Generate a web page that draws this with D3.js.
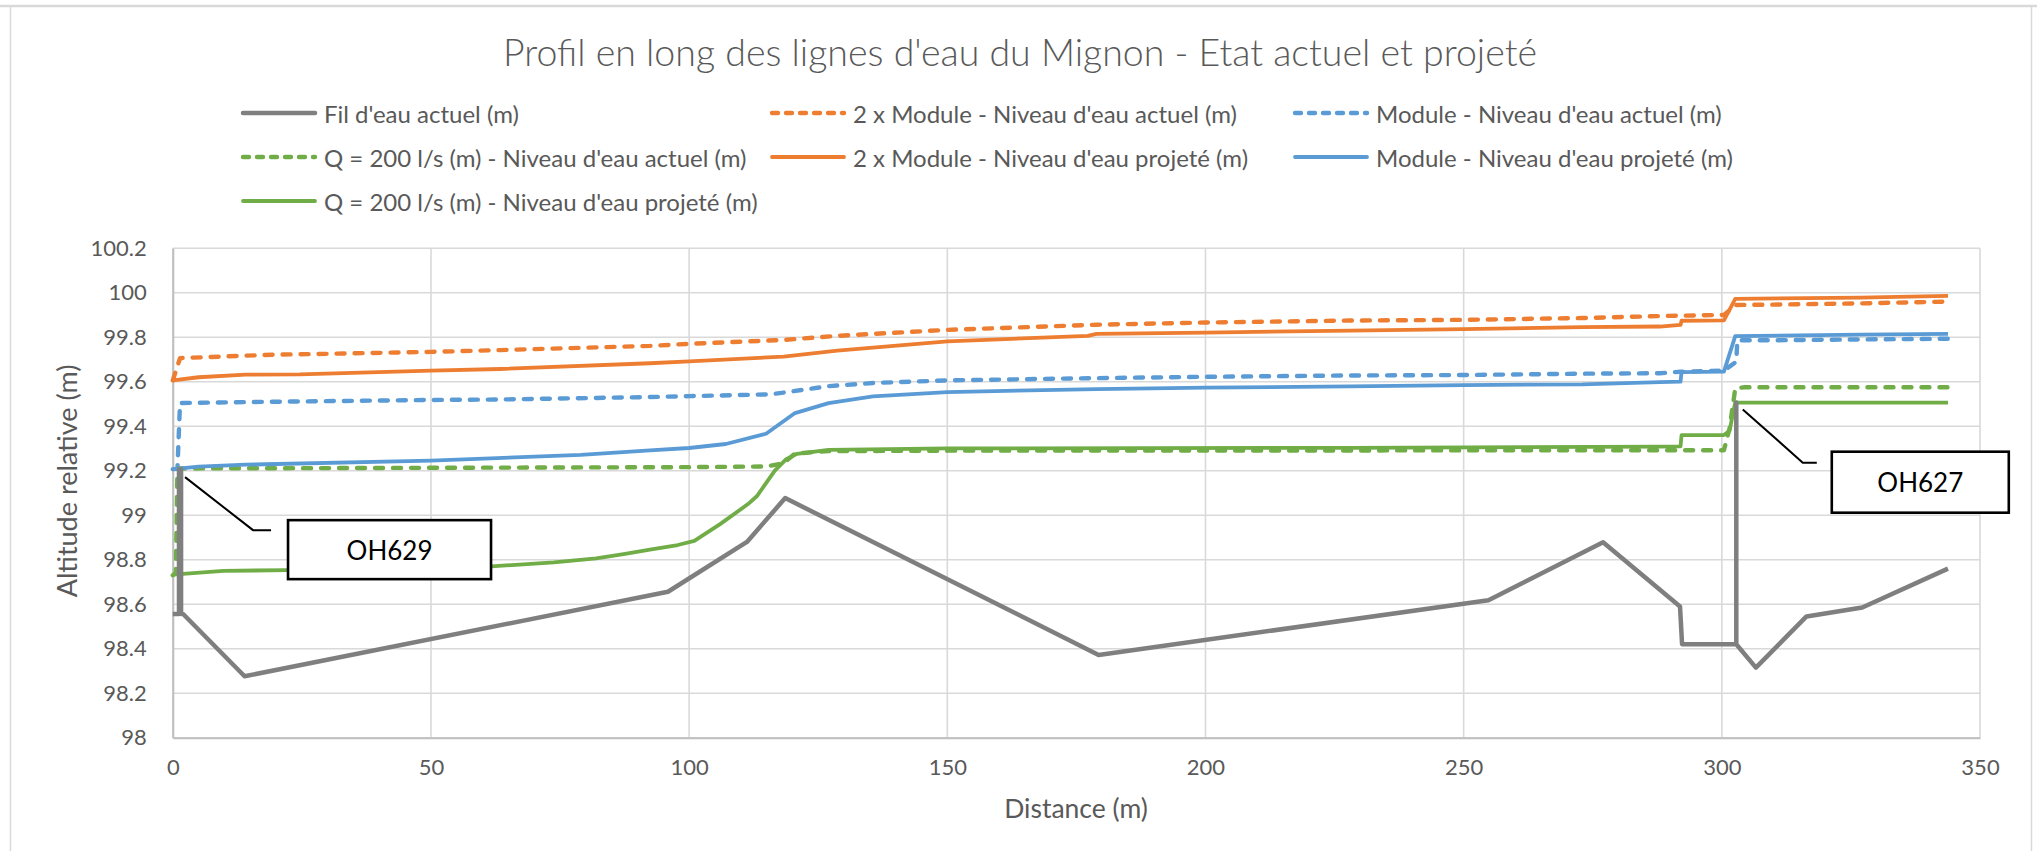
<!DOCTYPE html>
<html>
<head>
<meta charset="utf-8">
<script src="https://cdn.jsdelivr.net/npm/d3@7"></script>
<style>
  html, body { margin: 0; padding: 0; background: #fff; }
  svg { display: block; font-family: Lato, "Open Sans", sans-serif; }
</style>
</head>
<body>
<svg id="chart" width="2037" height="851"></svg>
<script>
// Profil en long du Mignon : distance (m) / altitude relative (m)
const filEauActuel = [
  [0, 98.556], [1.2, 98.556], [1.2, 99.207], [1.6, 99.207], [1.6, 98.556], [2.0, 98.556],
  [13.9, 98.276], [95.9, 98.656], [111.2, 98.88], [118.6, 99.077], [179.3, 98.372],
  [254.8, 98.618], [277.0, 98.878], [291.9, 98.59], [292.3, 98.42], [302.8, 98.42],
  [302.8, 99.507], [302.8, 98.42], [306.6, 98.315], [316.4, 98.545], [327.2, 98.585], [343.8, 98.76]
];
const deuxModuleActuel = [
  [0, 99.606], [1.4, 99.706], [20, 99.722], [24.6, 99.723], [50, 99.734], [63.4, 99.742],
  [92.4, 99.761], [100, 99.77], [118.6, 99.788], [128.7, 99.806], [150, 99.833], [178.9, 99.856],
  [200, 99.866], [228, 99.875], [250, 99.878], [273, 99.886], [288, 99.895], [300.4, 99.9],
  [302.8, 99.945], [309, 99.946], [326.8, 99.952], [343.8, 99.96]
];
const moduleActuel = [
  [0, 99.207], [0.9, 99.21], [1.4, 99.504], [20, 99.51], [50, 99.518], [63.4, 99.52],
  [92.4, 99.531], [100, 99.535], [115.7, 99.543], [118.6, 99.552], [127, 99.58], [135.6, 99.594],
  [150, 99.606], [178.9, 99.616], [200, 99.622], [228, 99.628], [250, 99.63], [273, 99.636],
  [288, 99.638], [292, 99.645], [300.4, 99.65], [302.8, 99.69], [303.0, 99.786], [309, 99.786],
  [326.8, 99.79], [343.8, 99.793]
];
const q200Actuel = [
  [0, 98.73], [0.6, 98.74], [0.9, 99.21], [50, 99.213], [100, 99.216], [114.9, 99.219],
  [118.3, 99.234], [120.5, 99.277], [127, 99.288], [150, 99.29], [300.4, 99.292], [301.5, 99.39],
  [302.6, 99.57], [304.4, 99.575], [343.8, 99.575]
];
const deuxModuleProjete = [
  [0, 99.606], [5, 99.62], [14.1, 99.632], [24.6, 99.633], [50, 99.65], [63.4, 99.657],
  [92.4, 99.683], [100, 99.691], [118.3, 99.713], [128.7, 99.74], [150, 99.781], [177.2, 99.806],
  [178.9, 99.815], [200, 99.821], [228, 99.83], [250, 99.836], [273, 99.845], [288, 99.848],
  [292.0, 99.855], [292.2, 99.874], [300.4, 99.876], [302.6, 99.972], [326.8, 99.978], [343.8, 99.986]
];
const moduleProjete = [
  [0, 99.207], [5, 99.218], [14.1, 99.227], [50, 99.245], [79, 99.271], [92.4, 99.291],
  [100, 99.302], [107.1, 99.32], [114.9, 99.366], [120.5, 99.459], [127, 99.504], [135.6, 99.534],
  [150, 99.553], [178.9, 99.567], [200, 99.573], [228, 99.579], [250, 99.585], [273, 99.588],
  [288, 99.598], [292.0, 99.6], [292.2, 99.643], [300.4, 99.645], [302.6, 99.805], [326.8, 99.812],
  [343.8, 99.815]
];
const q200Projete = [
  [0, 98.733], [9.8, 98.75], [22.3, 98.753], [40, 98.758], [61.7, 98.77], [73.8, 98.788],
  [82, 98.806], [87.6, 98.826], [92.4, 98.845], [97.8, 98.866], [101, 98.885], [106, 98.96],
  [111.4, 99.05], [113.1, 99.085], [116.6, 99.2], [118.8, 99.252], [120.9, 99.276], [127, 99.294],
  [150, 99.3], [228, 99.303], [288, 99.308], [292.0, 99.309], [292.2, 99.36], [300.4, 99.36],
  [301.5, 99.38], [302.3, 99.473], [302.6, 99.506], [343.8, 99.506]
];

const seriesNames = [
  "Fil d'eau actuel (m)",
  "2 x Module - Niveau d'eau actuel (m)",
  "Module - Niveau d'eau actuel (m)",
  "Q = 200 l/s (m) - Niveau d'eau actuel (m)",
  "2 x Module - Niveau d'eau projeté (m)",
  "Module - Niveau d'eau projeté (m)",
  "Q = 200 l/s (m) - Niveau d'eau projeté (m)"
];
const seriesValues = [filEauActuel, deuxModuleActuel, moduleActuel, q200Actuel,
                      deuxModuleProjete, moduleProjete, q200Projete];

const xTicks = [0, 50, 100, 150, 200, 250, 300, 350];
const yTicks = [98, 98.2, 98.4, 98.6, 98.8, 99, 99.2, 99.4, 99.6, 99.8, 100, 100.2];
const yTickLabels = ["98", "98.2", "98.4", "98.6", "98.8", "99", "99.2", "99.4", "99.6", "99.8", "100", "100.2"];

const ouvrages = [
  { label: "OH629", distance: 1.4, altitude: 99.207 },
  { label: "OH627", distance: 302.8, altitude: 99.507 }
];

const chartTitle = "Profil en long des lignes d'eau du Mignon - Etat actuel et projeté";
const xTitle = "Distance (m)";
const yTitle = "Altitude relative (m)";

// ---- styles ----
const colors = ["#7f7f7f", "#ed7d31", "#5b9bd5", "#70ad47", "#ed7d31", "#5b9bd5", "#70ad47"];
const dashed = [false, true, true, true, false, false, false];
const widths = [4.5, 4.4, 4.4, 4.4, 3.8, 3.8, 3.8];
const textColor = "#595959";

const svg = d3.select("#chart");

// chart area frame
svg.append("line").attr("x1", 0).attr("x2", 2037).attr("y1", 6).attr("y2", 6)
  .attr("stroke", "#d9d9d9").attr("stroke-width", 2.5);
svg.append("line").attr("x1", 10.5).attr("x2", 10.5).attr("y1", 6).attr("y2", 851)
  .attr("stroke", "#d9d9d9").attr("stroke-width", 1.5);
svg.append("line").attr("x1", 2031.5).attr("x2", 2031.5).attr("y1", 6).attr("y2", 851)
  .attr("stroke", "#d9d9d9").attr("stroke-width", 1.5);

const x = d3.scaleLinear().domain([0, 350]).range([172.8, 1980]);
const y = d3.scaleLinear().domain([98, 100.2]).range([737.7, 248.2]);

// gridlines
const grid = svg.append("g");
grid.selectAll(".gy").data(yTicks).join("line")
  .attr("x1", x(0)).attr("x2", x(350))
  .attr("y1", d => y(d)).attr("y2", d => y(d))
  .attr("stroke", "#d9d9d9").attr("stroke-width", 1.6);
grid.selectAll(".gx").data(xTicks).join("line")
  .attr("x1", d => x(d)).attr("x2", d => x(d))
  .attr("y1", y(98)).attr("y2", y(100.2))
  .attr("stroke", "#d9d9d9").attr("stroke-width", 1.6);

// axes
const xAxis = d3.axisBottom(x).tickValues(xTicks).tickSize(0).tickPadding(22).tickFormat(d3.format("d"));
const yAxis = d3.axisLeft(y).tickValues(yTicks).tickSize(0).tickPadding(26)
  .tickFormat((d, i) => yTickLabels[i]);

const gx = svg.append("g").attr("transform", `translate(0,${y(98)})`).call(xAxis);
const gy = svg.append("g").attr("transform", `translate(${x(0)},0)`).call(yAxis);
[gx, gy].forEach(g => {
  g.select(".domain").attr("stroke", "#bfbfbf").attr("stroke-width", 2);
  g.selectAll("text").attr("fill", textColor).style("font-size", "22px")
    .style("font-family", "Lato, sans-serif");
});
gx.selectAll("text").attr("dy", "0.71em");

// series
const line = d3.line().x(d => x(d[0])).y(d => y(d[1]));
const order = [1, 2, 3, 4, 5, 6, 0];
const gLines = svg.append("g");
order.forEach(i => {
  gLines.append("path")
    .attr("d", line(seriesValues[i]))
    .attr("fill", "none")
    .attr("stroke", colors[i])
    .attr("stroke-width", widths[i])
    .attr("stroke-linejoin", "round")
    .attr("stroke-linecap", dashed[i] ? "round" : "butt")
    .attr("stroke-dasharray", dashed[i] ? "8 10" : null);
});

// callouts for hydraulic structures
const calloutLayout = {
  OH629: { start: [5, 8], bend: [73, 61], end: [91, 61], box: [108, 51, 203, 59] },
  OH627: { start: [6.5, 7], bend: [66.5, 60.3], end: [80.5, 60.3], box: [95.5, 49.3, 177, 61] }
};
const gAnn = svg.append("g");
ouvrages.forEach(o => {
  const px = x(o.distance), py = y(o.altitude);
  const L = calloutLayout[o.label];
  gAnn.append("polyline")
    .attr("points", [L.start, L.bend, L.end].map(p => `${px + p[0]},${py + p[1]}`).join(" "))
    .attr("fill", "none").attr("stroke", "#000").attr("stroke-width", 2);
  gAnn.append("rect")
    .attr("x", px + L.box[0]).attr("y", py + L.box[1])
    .attr("width", L.box[2]).attr("height", L.box[3])
    .attr("fill", "#fff").attr("stroke", "#000").attr("stroke-width", 2.6);
  gAnn.append("text")
    .attr("x", px + L.box[0] + L.box[2] / 2).attr("y", py + L.box[1] + L.box[3] / 2)
    .attr("text-anchor", "middle").attr("dominant-baseline", "central")
    .style("font-size", "26px").attr("fill", "#000")
    .text(o.label);
});

// titles
svg.append("text").attr("x", 1020).attr("y", 51)
  .attr("text-anchor", "middle").attr("dominant-baseline", "central")
  .attr("fill", textColor).style("font-size", "37.5px").style("font-weight", 300).text(chartTitle);
svg.append("text").attr("x", 1076).attr("y", 808)
  .attr("text-anchor", "middle").attr("dominant-baseline", "central")
  .attr("fill", textColor).style("font-size", "26.5px").text(xTitle);
svg.append("text").attr("transform", "translate(66,481) rotate(-90)")
  .attr("text-anchor", "middle").attr("dominant-baseline", "central")
  .attr("fill", textColor).style("font-size", "27px").text(yTitle);

// legend: 3 columns x 3 rows
const legendCols = [240, 769, 1292];
const legendRows = [113, 157, 201];
const gLeg = svg.append("g");
seriesNames.forEach((name, i) => {
  const lx = legendCols[i % 3], ly = legendRows[Math.floor(i / 3)];
  gLeg.append("line")
    .attr("x1", lx + 3).attr("x2", lx + 75).attr("y1", ly).attr("y2", ly)
    .attr("stroke", colors[i]).attr("stroke-width", widths[i])
    .attr("stroke-linecap", "round")
    .attr("stroke-dasharray", dashed[i] ? "6 8" : null);
  gLeg.append("text").attr("x", lx + 84).attr("y", ly)
    .attr("dominant-baseline", "central")
    .attr("fill", textColor).style("font-size", "24px").text(name);
});
</script>
</body>
</html>
